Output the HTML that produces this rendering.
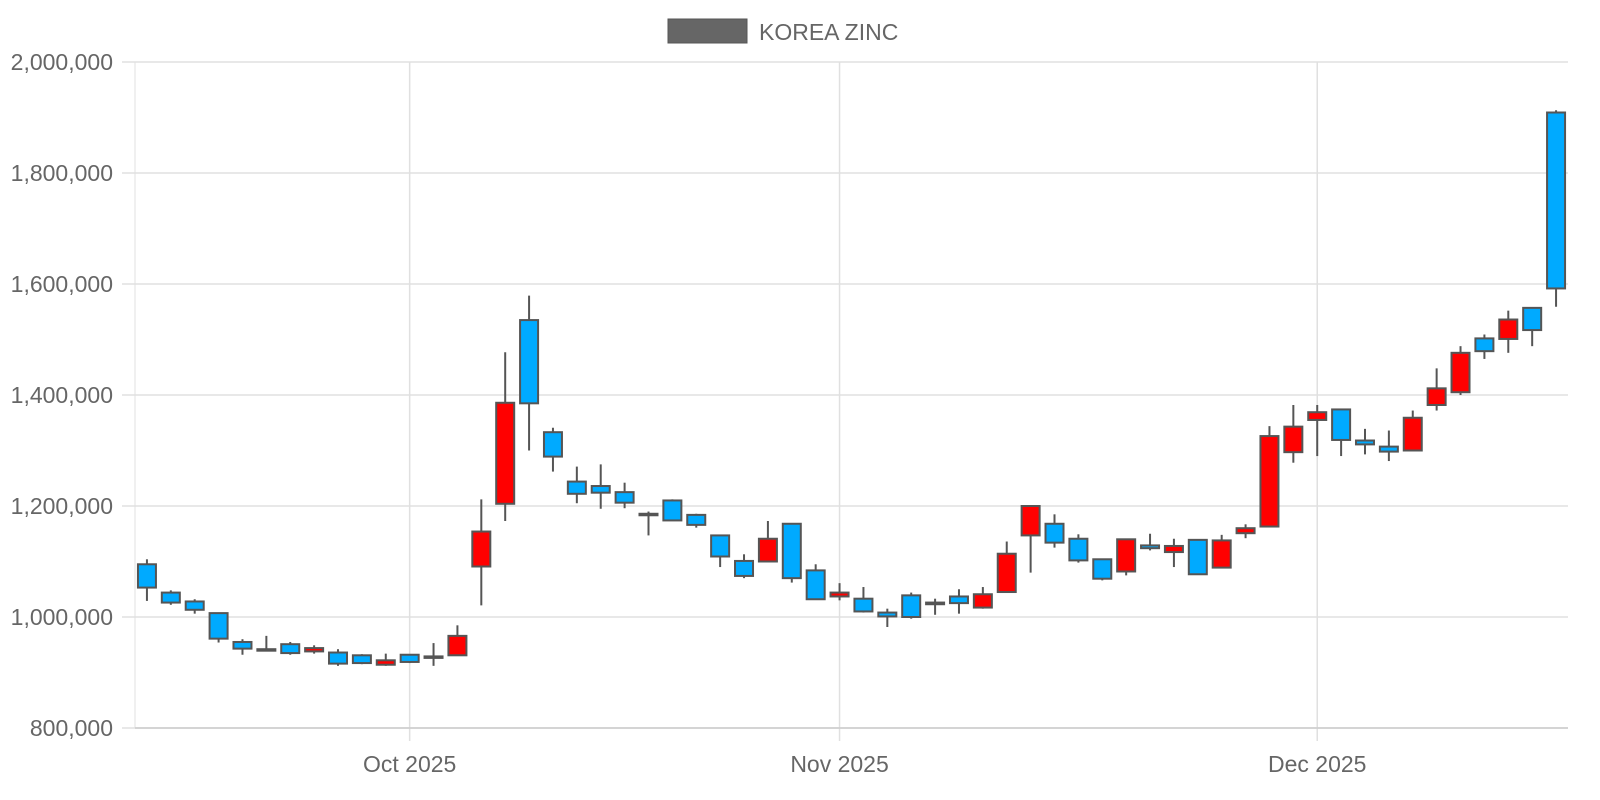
<!DOCTYPE html>
<html><head><meta charset="utf-8"><style>
html,body{margin:0;padding:0;background:#fff;}
svg{display:block;font-family:"Liberation Sans",sans-serif;}
</style></head><body>
<svg id="chart" width="1600" height="800" xmlns="http://www.w3.org/2000/svg">
<g id="grid"></g>
<g id="yaxis"></g>
<g id="xaxis"></g>
<g id="candles"></g>
<g>
<rect x="668" y="19" width="79" height="24" fill="#666" stroke="#555" stroke-width="1"/>
<text x="759" y="40" font-size="23" fill="#666">KOREA ZINC</text>
</g>
</svg>
<script>
const opens  = [1095,1044,1028,1007,955,942,951,938,936,931,914,932,929,931,1091,1204,1535,1333,1244,1236,1225,1186,1210,1184,1147,1101,1100,1168,1084,1037,1033,1008,1039,1026,1037,1017,1045,1147,1168,1141,1104,1082,1129,1117,1139,1089,1151,1163,1297,1355,1374,1318,1307,1300,1382,1405,1502,1501,1557,1909];
const closes = [1053,1026,1013,961,943,941,935,944,916,917,922,919,928,966,1154,1386,1385,1289,1222,1224,1206,1184,1174,1166,1109,1074,1141,1070,1032,1044,1010,1001,1000,1023,1025,1041,1114,1200,1134,1102,1069,1140,1124,1128,1077,1138,1160,1326,1343,1369,1319,1311,1298,1359,1412,1476,1479,1536,1517,1592];
const highs  = [1104,1048,1032,1007,960,966,955,949,942,933,934,933,953,985,1212,1477,1579,1341,1271,1275,1242,1190,1212,1186,1148,1113,1173,1168,1095,1061,1054,1015,1044,1033,1050,1054,1136,1200,1185,1149,1104,1140,1150,1141,1139,1148,1167,1344,1382,1382,1374,1339,1336,1372,1448,1488,1509,1552,1557,1913];
const lows   = [1029,1022,1006,954,932,941,932,934,912,915,912,917,912,931,1021,1173,1300,1262,1205,1195,1196,1147,1173,1161,1090,1070,1100,1062,1032,1030,1008,982,997,1004,1006,1015,1045,1080,1125,1098,1066,1075,1120,1090,1077,1089,1142,1163,1278,1290,1290,1293,1281,1300,1372,1400,1465,1476,1488,1559];
const xTickIdx = [11,29,49];
const xTickLabels = ["Oct 2025","Nov 2025","Dec 2025"];
const yTicks = [800000,1000000,1200000,1400000,1600000,1800000,2000000];

const L=135,R=1568,T=62,B=728;
const n=opens.length;
const step=(R-L)/n;
const X=i=>L+(i+0.5)*step;
const Y=v=>B-(v-800000)/(1200000)*(B-T);
const NS="http://www.w3.org/2000/svg";
function mk(tag,attrs,parent){const e=document.createElementNS(NS,tag);for(const k in attrs)e.setAttribute(k,attrs[k]);parent.appendChild(e);return e;}
const grid=document.getElementById('grid'),ya=document.getElementById('yaxis'),xa=document.getElementById('xaxis'),cg=document.getElementById('candles');

mk('line',{x1:L,y1:T,x2:L,y2:B,stroke:'#e0e0e0','stroke-width':1},grid);
yTicks.forEach(v=>{
  const y=Y(v);
  const g=mk('line',{x1:L-13,y1:y,x2:R,y2:y,stroke:'#e0e0e0','stroke-width':1.5},grid);
  
  
  const t=mk('text',{x:113,y:y+8,'text-anchor':'end','font-size':23,fill:'#666'},ya);
  
  
  t.textContent=v.toLocaleString('en-US');
});
mk('line',{x1:L,y1:B,x2:R,y2:B,stroke:'#ccc','stroke-width':1.5},xa);
xTickIdx.forEach((idx,k)=>{
  const x=X(idx);
  const g=mk('line',{x1:x,y1:T,x2:x,y2:B+13,stroke:'#e0e0e0','stroke-width':1.5},grid);
  
  
  const t=mk('text',{x:x,y:772,'text-anchor':'middle','font-size':23,fill:'#666'},xa);
  
  
  t.textContent=xTickLabels[k];
});
for(let i=0;i<n;i++){
  const o=opens[i]*1000,c=closes[i]*1000,h=highs[i]*1000,l=lows[i]*1000;
  const x=X(i);
  const g=mk('g',{},cg);
  
  
  mk('line',{x1:x,y1:Y(h),x2:x,y2:Y(l),stroke:'#555','stroke-width':2},g);
  const top=Y(Math.max(o,c)),bot=Y(Math.min(o,c));
  mk('rect',{x:x-9,y:top,width:18,height:Math.max(bot-top,1.5),fill:c>=o?'#ff0000':'#00aaff',stroke:'#555','stroke-width':2},g);
}
</script>
</body></html>
